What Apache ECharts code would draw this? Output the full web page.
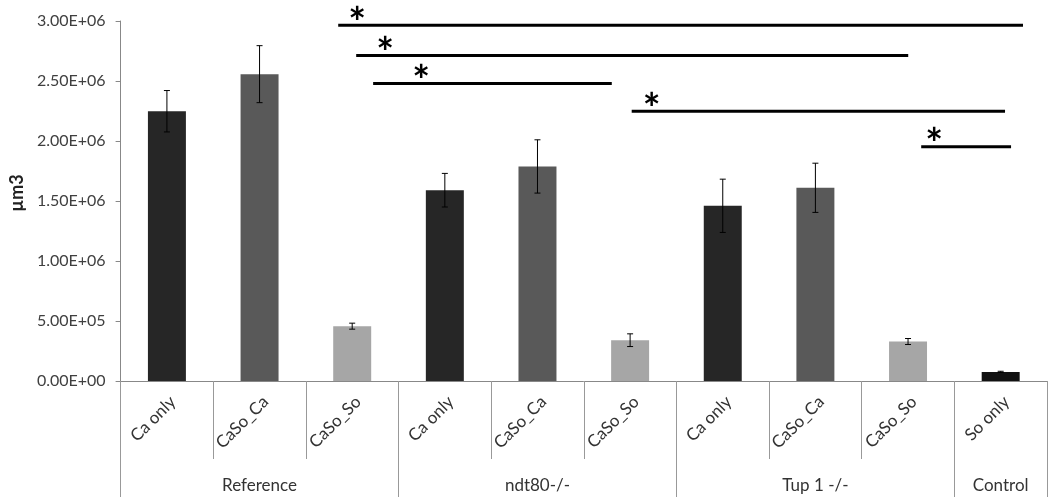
<!DOCTYPE html>
<html>
<head>
<meta charset="utf-8">
<script src="https://cdn.jsdelivr.net/npm/echarts@6/dist/echarts.min.js"></script>
<style>html,body{margin:0;padding:0;background:#fff}#c{width:1050px;height:499px}</style>
</head>
<body>
<div id="c"></div>
<script>
// ---- data ----
const categories = ['Ca only','CaSo_Ca','CaSo_So','Ca only','CaSo_Ca','CaSo_So','Ca only','CaSo_Ca','CaSo_So','So only'];
const groups = ['Reference','ndt80-/-','Tup 1 -/-','Control'];
const groupCenters = [1, 4, 7, 9];
const groupBounds = [-0.5, 2.5, 5.5, 8.5, 9.5];
const values = [2.248e6, 2.557e6, 0.457e6, 1.59e6, 1.788e6, 0.34e6, 1.46e6, 1.61e6, 0.329e6, 0.076e6];
const errors = [0.1725e6, 0.2375e6, 0.025e6, 0.14e6, 0.222e6, 0.053e6, 0.222e6, 0.205e6, 0.025e6, 0.005e6];
// significance bars (x in category-index units)
const sigY = [2.965e6, 2.7125e6, 2.479e6, 2.248e6, 1.952e6];
const sigStart = [1.849, 2.043, 2.226, 5.017, 8.142];
const sigEnd = [9.241, 8.002, 4.802, 9.047, 9.112];
const sigStar = [2.054, 2.356, 2.744, 5.233, 8.282];

// ---- styles ----
const colorFor = { 'Ca only': '#262626', 'CaSo_Ca': '#595959', 'CaSo_So': '#a6a6a6', 'So only': '#111111' };
const FONT = 'Lato';

function sci(v) {
  if (v === 0) return '0.00E+00';
  const e = Math.floor(Math.log10(v) + 1e-9);
  const m = v / Math.pow(10, e);
  return m.toFixed(2) + 'E' + (e >= 0 ? '+' : '-') + String(Math.abs(e)).padStart(2, '0');
}

const chart = echarts.init(document.getElementById('c'), null, { renderer: 'canvas' });

const barData = values.map((v, i) => ({ value: v, itemStyle: { color: colorFor[categories[i]] } }));
const errData = values.map((v, i) => [i, v, errors[i]]);
const sigData = sigY.map((y, i) => [sigStart[i], sigEnd[i], y, sigStar[i]]);

chart.setOption({
  animation: false,
  grid: { left: 120, right: 3, top: 21, bottom: 118, containLabel: false },
  xAxis: [
    {
      type: 'category',
      data: categories,
      axisLine: { lineStyle: { color: '#888', width: 1 } },
      axisTick: { show: true, interval: 0, length: 78, lineStyle: { color: '#999' } },
      axisLabel: { interval: 0, rotate: 45, margin: 12, verticalAlign: 'top', fontFamily: FONT, fontSize: 17, color: '#333' }
    },
    {
      type: 'value',
      min: -0.5, max: 9.5,
      position: 'bottom',
      axisLine: { show: false, onZero: false },
      splitLine: { show: false },
      axisTick: { show: true, customValues: groupBounds, length: 116, lineStyle: { color: '#999' } },
      axisLabel: {
        customValues: groupCenters, margin: 96, fontFamily: FONT, fontSize: 17, color: '#333',
        formatter: function (v) { const k = groupCenters.indexOf(v); return k >= 0 ? groups[k] : ''; }
      }
    }
  ],
  yAxis: {
    type: 'value', min: 0, max: 3e6, interval: 5e5,
    name: 'µm3', nameLocation: 'middle', nameGap: 94, nameRotate: 90,
    nameTextStyle: { fontFamily: FONT, fontSize: 18, fontWeight: 'bold', color: '#222', padding: [0, 0, 0, 16] },
    axisLine: { show: true, onZero: false, lineStyle: { color: '#888' } },
    axisTick: { show: true, length: 5, lineStyle: { color: '#888' } },
    splitLine: { show: false },
    axisLabel: { formatter: sci, fontFamily: FONT, fontSize: 16, color: '#404040', margin: 15 }
  },
  series: [
    { type: 'bar', data: barData, barWidth: '41%', xAxisIndex: 0, yAxisIndex: 0 },
    {
      type: 'custom', xAxisIndex: 0, yAxisIndex: 0, data: errData, z: 5,
      renderItem: function (params, api) {
        const x = api.value(0), v = api.value(1), e = api.value(2);
        const top = api.coord([x, v + e]);
        const bot = api.coord([x, v - e]);
        const hw = 3;
        const st = { stroke: '#000', lineWidth: 1 };
        return { type: 'group', children: [
          { type: 'line', shape: { x1: top[0], y1: top[1], x2: bot[0], y2: bot[1] }, style: st },
          { type: 'line', shape: { x1: top[0] - hw, y1: top[1], x2: top[0] + hw, y2: top[1] }, style: st },
          { type: 'line', shape: { x1: bot[0] - hw, y1: bot[1], x2: bot[0] + hw, y2: bot[1] }, style: st }
        ]};
      }
    },
    {
      type: 'custom', xAxisIndex: 1, yAxisIndex: 0, data: sigData, z: 6,
      renderItem: function (params, api) {
        const a = api.coord([api.value(0), api.value(2)]);
        const b = api.coord([api.value(1), api.value(2)]);
        const s = api.coord([api.value(3), api.value(2)]);
        return { type: 'group', children: [
          { type: 'line', shape: { x1: a[0], y1: a[1], x2: b[0], y2: b[1] }, style: { stroke: '#000', lineWidth: 3 } },
          { type: 'text', x: s[0], y: s[1] - 1, style: { text: '*', font: 'bold 42px ' + FONT, fill: '#000', align: 'center', verticalAlign: 'middle' } }
        ]};
      }
    }
  ]
});
</script>
</body>
</html>
